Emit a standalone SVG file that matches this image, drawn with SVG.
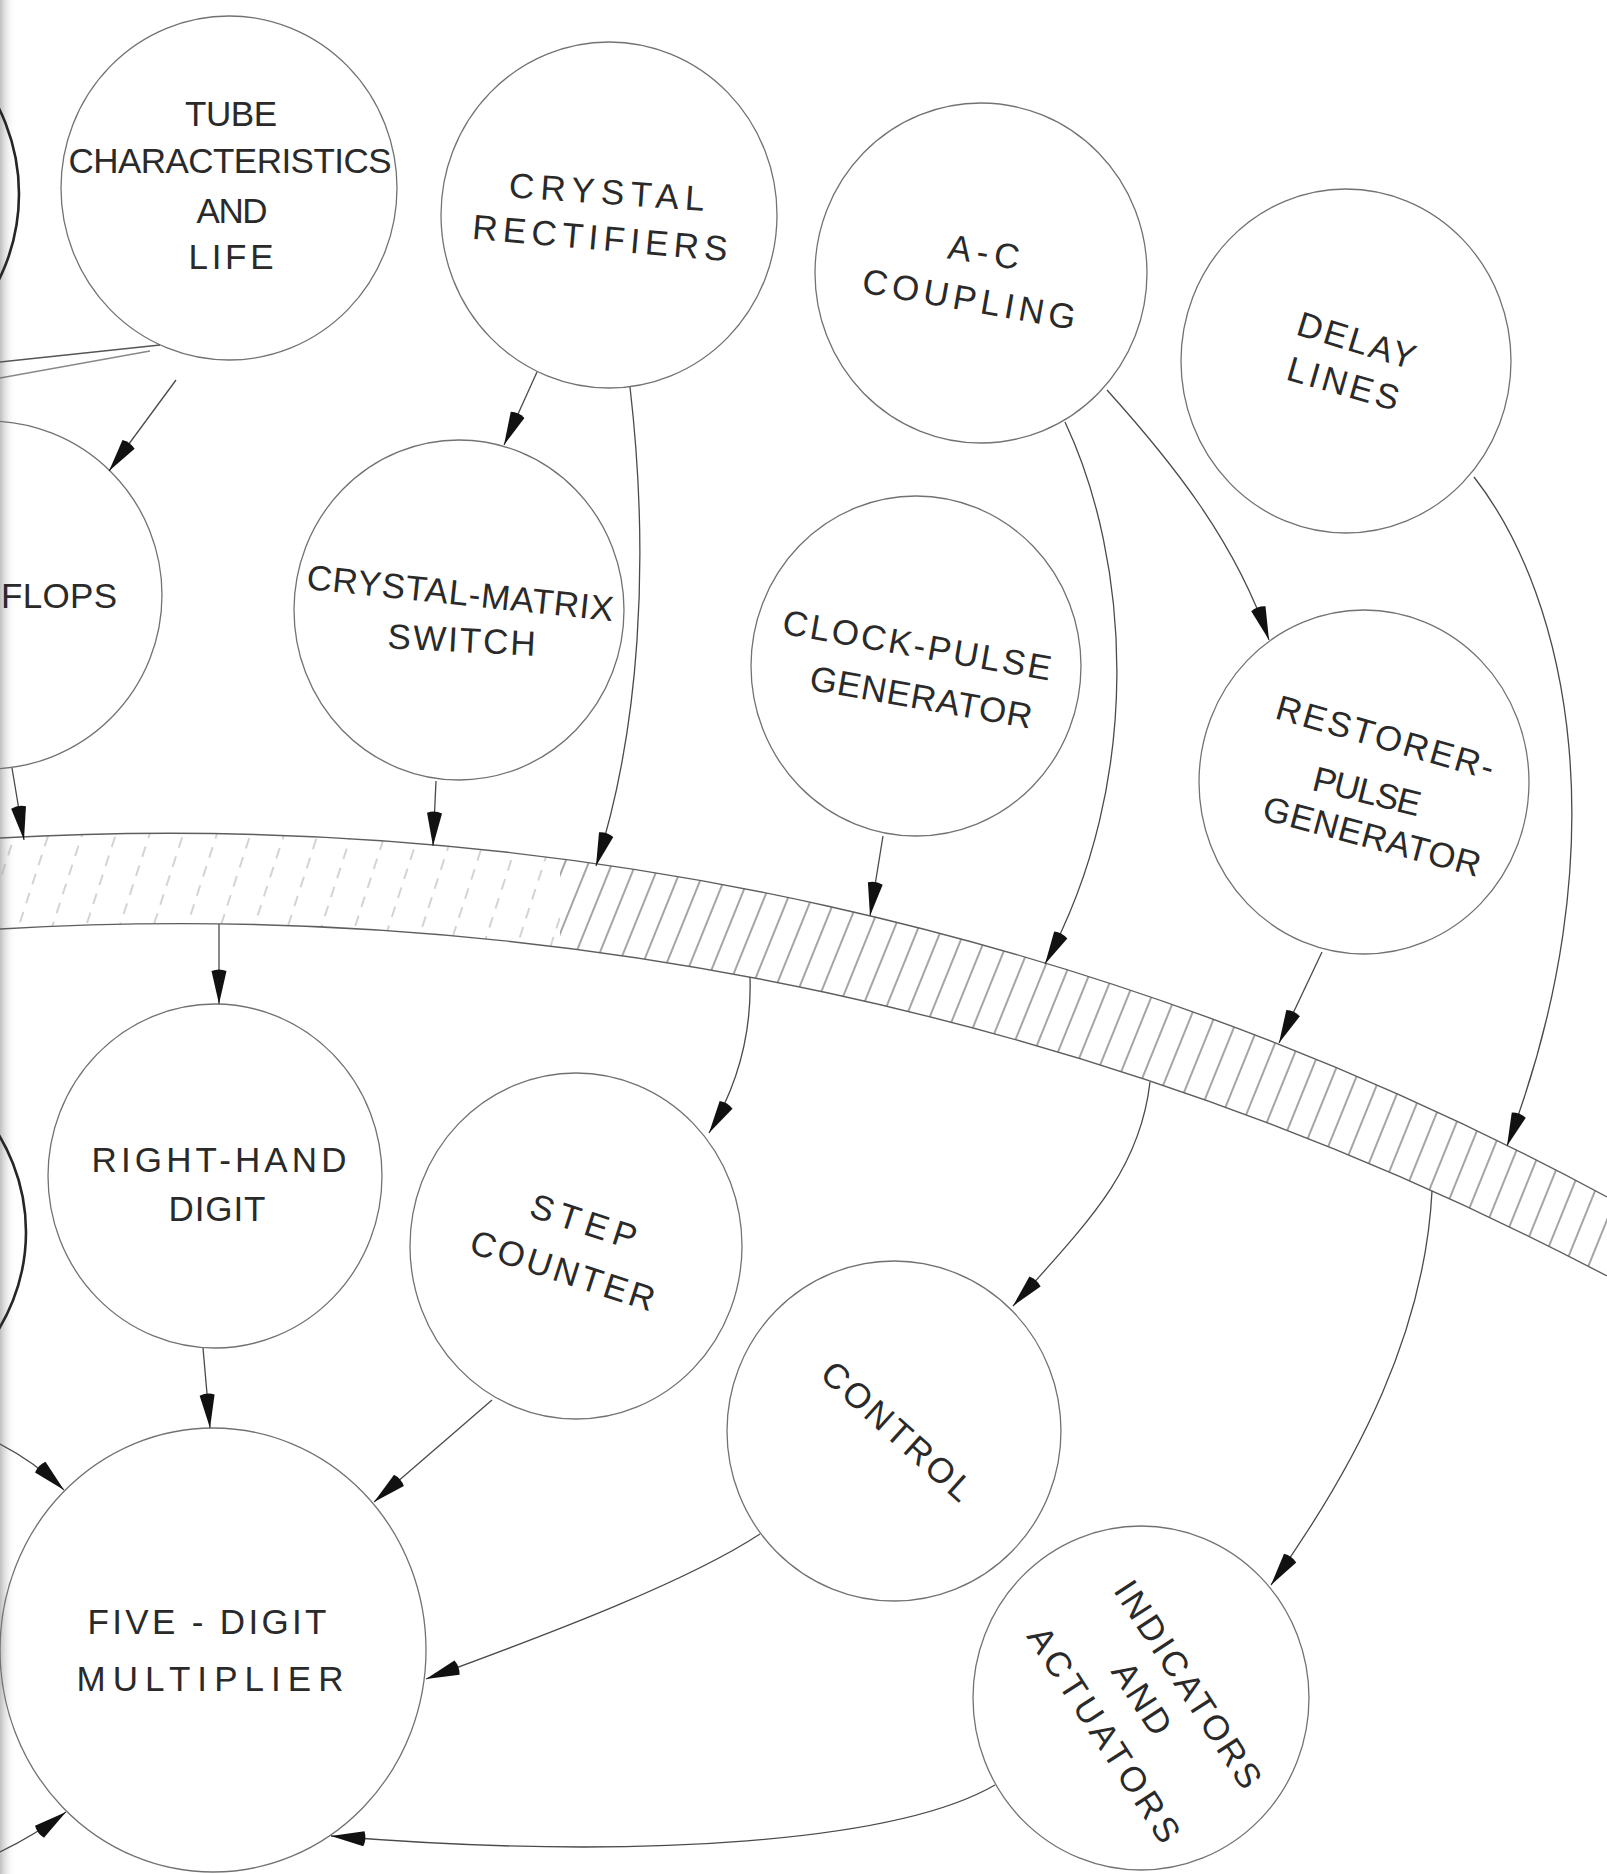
<svg xmlns="http://www.w3.org/2000/svg" width="1607" height="1874" viewBox="0 0 1607 1874">
<style>
.node ellipse, .node circle {fill:none; stroke:#727272; stroke-width:1.3}
.node .dark {fill:none; stroke:#262626; stroke-width:2.6}
.lbl {font-family:"Liberation Sans", Arial, sans-serif; font-size:35px; fill:#2a2a2a; text-anchor:middle}
.conn path {fill:none; stroke:#4a4a4a; stroke-width:1.3}
.conn .a {marker-end:url(#arr)}
.conn .plain {stroke:#555; stroke-width:1.5}
.edge {fill:none; stroke:#5e5e5e; stroke-width:1.4}
</style>
<defs>
<marker id="arr" viewBox="-37 -9 39 18" refX="0" refY="0" markerWidth="39" markerHeight="18" markerUnits="userSpaceOnUse" orient="auto">
<path d="M0,0 L-33,-7.5 Q-36,0 -33,7.5 Z" fill="#111"/>
</marker>
<pattern id="hatchR" patternUnits="userSpaceOnUse" width="22" height="60" patternTransform="rotate(22)">
<line x1="11" y1="0" x2="11" y2="60" stroke="#5a5a5a" stroke-width="1.1"/>
</pattern>
<pattern id="hatchL" patternUnits="userSpaceOnUse" width="32" height="60" patternTransform="rotate(18)">
<line x1="16" y1="0" x2="16" y2="60" stroke="#a8a8a8" stroke-width="1" stroke-dasharray="11 9"/>
</pattern>
<clipPath id="clipL"><rect x="0" y="0" width="560" height="1874"/></clipPath>
<clipPath id="clipR"><rect x="560" y="0" width="1047" height="1874"/></clipPath>
<linearGradient id="strip" x1="0" y1="0" x2="1" y2="0">
<stop offset="0" stop-color="#b8b8b8" stop-opacity="0.9"/>
<stop offset="1" stop-color="#ffffff" stop-opacity="0"/>
</linearGradient>
</defs>
<rect x="0" y="0" width="1607" height="1874" fill="#ffffff"/>
<rect x="0" y="0" width="16" height="1874" fill="url(#strip)"/>

<g id="band">
<path d="M0,838 A3028.7,3028.7 0 0 1 1607,1197 L1607,1276 A3066.3,3066.3 0 0 0 0,929 Z" fill="url(#hatchL)" clip-path="url(#clipL)"/>
<path d="M0,838 A3028.7,3028.7 0 0 1 1607,1197 L1607,1276 A3066.3,3066.3 0 0 0 0,929 Z" fill="url(#hatchR)" clip-path="url(#clipR)"/>
<path class="edge" d="M0,838 A3028.7,3028.7 0 0 1 1607,1197"/>
<path class="edge" d="M0,929 A3066.3,3066.3 0 0 1 1607,1276"/>
</g>

<g id="node-left-top" class="node"><circle class="dark" cx="-174" cy="194" r="193"/></g>
<g id="node-left-bottom" class="node"><circle class="dark" cx="-161" cy="1232" r="187"/></g>

<g id="node-tube" class="node">
<ellipse cx="229" cy="188" rx="168" ry="172"/>
<text class="lbl" x="231" y="126" textLength="92">TUBE</text>
<text class="lbl" x="230" y="173" textLength="323">CHARACTERISTICS</text>
<text class="lbl" x="232" y="223" textLength="71">AND</text>
<text class="lbl" x="231" y="269" textLength="85">LIFE</text>
</g>

<g id="node-crystal-rectifiers" class="node">
<ellipse cx="609" cy="215" rx="168" ry="173"/>
<text class="lbl" x="606" y="204" textLength="196" transform="rotate(4 606 204)">CRYSTAL</text>
<text class="lbl" x="599" y="250" textLength="256" transform="rotate(5 599 250)">RECTIFIERS</text>
</g>

<g id="node-ac-coupling" class="node">
<ellipse cx="981" cy="273" rx="166" ry="170"/>
<text class="lbl" x="982" y="264" textLength="72" transform="rotate(9 982 264)">A-C</text>
<text class="lbl" x="967" y="311" textLength="216" transform="rotate(10 967 311)">COUPLING</text>
</g>

<g id="node-delay-lines" class="node">
<ellipse cx="1346" cy="361" rx="165" ry="172"/>
<text class="lbl" x="1353" y="352" textLength="122" transform="rotate(17 1353 352)">DELAY</text>
<text class="lbl" x="1340" y="395" textLength="115" transform="rotate(16 1340 395)">LINES</text>
</g>

<g id="node-flops" class="node">
<circle cx="-12" cy="595" r="174"/>
<text class="lbl" x="1" y="608" textLength="116" style="text-anchor:start">FLOPS</text>
</g>

<g id="node-crystal-matrix" class="node">
<ellipse cx="459" cy="610" rx="165" ry="170"/>
<text class="lbl" x="459" y="605" textLength="308" transform="rotate(6 459 605)">CRYSTAL-MATRIX</text>
<text class="lbl" x="461" y="652" textLength="148" transform="rotate(3 461 652)">SWITCH</text>
</g>

<g id="node-clock-pulse" class="node">
<ellipse cx="916" cy="666" rx="165" ry="170"/>
<text class="lbl" x="915" y="657" textLength="272" transform="rotate(10 915 657)">CLOCK-PULSE</text>
<text class="lbl" x="919" y="709" textLength="225" transform="rotate(10 919 709)">GENERATOR</text>
</g>

<g id="node-restorer" class="node">
<ellipse cx="1364" cy="782" rx="165" ry="172"/>
<text class="lbl" x="1382" y="749" textLength="225" transform="rotate(16 1382 749)">RESTORER-</text>
<text class="lbl" x="1364" y="803" textLength="110" transform="rotate(14 1364 803)">PULSE</text>
<text class="lbl" x="1369" y="848" textLength="224" transform="rotate(15 1369 848)">GENERATOR</text>
</g>

<g id="node-right-hand" class="node">
<ellipse cx="215" cy="1176" rx="167" ry="172"/>
<text class="lbl" x="219" y="1172" textLength="255">RIGHT-HAND</text>
<text class="lbl" x="217" y="1221" textLength="97">DIGIT</text>
</g>

<g id="node-step-counter" class="node">
<ellipse cx="576" cy="1246" rx="166" ry="173"/>
<text class="lbl" x="580" y="1233" textLength="110" transform="rotate(18 580 1233)">STEP</text>
<text class="lbl" x="559" y="1282" textLength="192" transform="rotate(18 559 1282)">COUNTER</text>
</g>

<g id="node-control" class="node">
<ellipse cx="894" cy="1431" rx="167" ry="170"/>
<text class="lbl" x="889" y="1440" textLength="190" transform="rotate(42 889 1440)">CONTROL</text>
</g>

<g id="node-indicators" class="node">
<ellipse cx="1141" cy="1698" rx="168" ry="172"/>
<text class="lbl" x="1178" y="1691" textLength="240" transform="rotate(57 1178 1691)">INDICATORS</text>
<text class="lbl" x="1132" y="1705" textLength="80" transform="rotate(57 1132 1705)">AND</text>
<text class="lbl" x="1094" y="1741" textLength="250" transform="rotate(57 1094 1741)">ACTUATORS</text>
</g>

<g id="node-five-digit" class="node">
<ellipse cx="213" cy="1650" rx="213" ry="222"/>
<text class="lbl" x="207" y="1634" textLength="239">FIVE - DIGIT</text>
<text class="lbl" x="210" y="1691" textLength="267">MULTIPLIER</text>
</g>

<g id="connectors" class="conn">
<path class="plain" d="M0,362 L160,345"/>
<path class="plain" d="M0,378 L150,351" stroke-opacity="0.7"/>
<path class="a" d="M176,380 L109,471"/>
<path class="a" d="M537,372 L504,445"/>
<path class="a" d="M630,387 C650,560 640,730 596,866"/>
<path class="a" d="M12,768 L24,840"/>
<path class="a" d="M436,781 L433,846"/>
<path class="a" d="M883,836 L870,916"/>
<path class="a" d="M1065,422 C1130,560 1145,780 1045,964"/>
<path class="a" d="M1107,390 C1170,460 1235,540 1269,640"/>
<path class="a" d="M1474,477 C1570,600 1620,850 1507,1146"/>
<path class="a" d="M1322,952 L1279,1043"/>
<path class="a" d="M219,924 L219,1004"/>
<path class="a" d="M750,977 C752,1040 735,1090 709,1133"/>
<path class="a" d="M1150,1082 C1140,1170 1090,1220 1013,1306"/>
<path class="a" d="M1432,1191 C1425,1330 1360,1460 1271,1585"/>
<path class="a" d="M203,1348 L210,1428"/>
<path class="a" d="M492,1400 L374,1502"/>
<path class="a" d="M760,1534 C690,1580 560,1630 426,1679"/>
<path class="a" d="M995,1785 C900,1840 650,1862 331,1836"/>
<path class="a" d="M0,1444 Q35,1462 64,1490"/>
<path class="a" d="M0,1852 Q35,1835 66,1812"/>
</g>
</svg>
